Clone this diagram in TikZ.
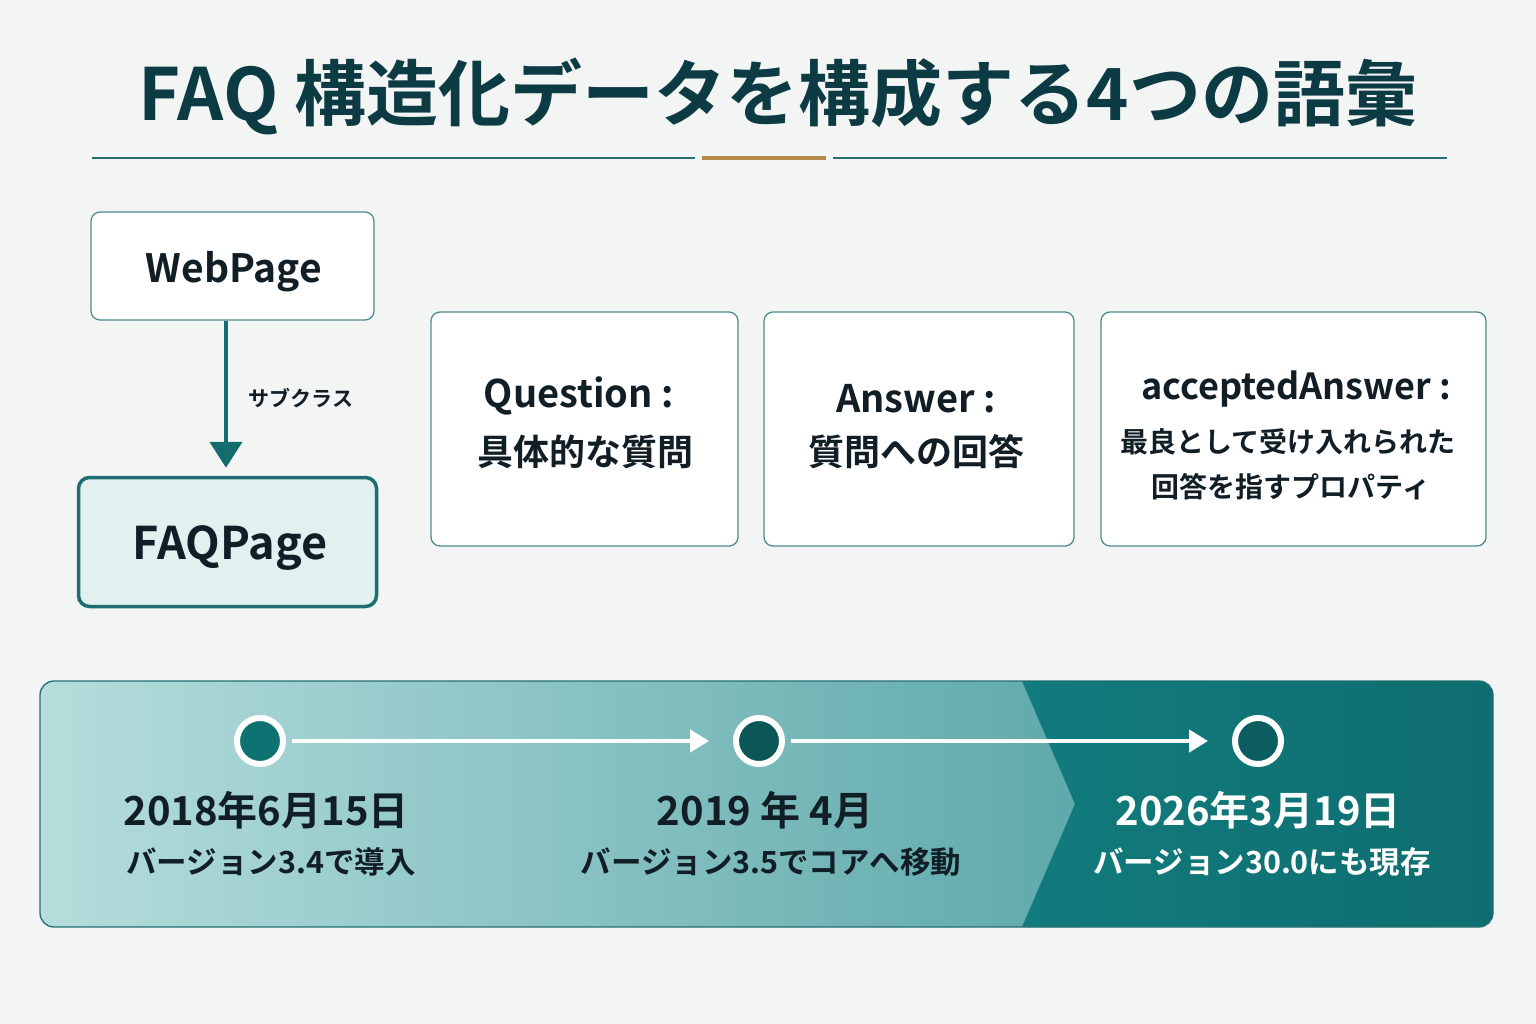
\documentclass[tikz,border=0pt]{standalone}
\usepackage{fontspec}
\setmainfont{Noto Sans CJK JP}[BoldFont=Noto Sans CJK JP Bold]
\usetikzlibrary{arrows.meta}
\definecolor{bg}{HTML}{F3F5F5}
\definecolor{titlec}{HTML}{0D3B44}
\definecolor{tealline}{HTML}{246F73}
\definecolor{gold}{HTML}{B38A45}
\definecolor{boxborder}{HTML}{4F8C8E}
\definecolor{ink}{HTML}{111E26}
\definecolor{faqfill}{HTML}{E2F0EF}
\definecolor{faqborder}{HTML}{1C6E70}
\definecolor{arrowc}{HTML}{146C6C}
\definecolor{tlA}{HTML}{B5DDDC}
\definecolor{tlB}{HTML}{5FA9AB}
\definecolor{tlC}{HTML}{127B7D}
\definecolor{tlD}{HTML}{0E6D6F}
\definecolor{dotA}{HTML}{0E7273}
\definecolor{dotB}{HTML}{0B5757}
\definecolor{dotC}{HTML}{0C5D5F}
\tikzset{
  card/.style={draw=boxborder, line width=1.3pt, fill=white, rounded corners=9pt, inner sep=0pt, align=center, text=ink},
  faqbox/.style={draw=faqborder, line width=3.5pt, fill=faqfill, rounded corners=11pt, inner sep=0pt, text=ink},
  dot/.style={circle, draw=white, line width=6pt, minimum size=46pt, inner sep=0pt},
  tlarrow/.style={draw=white, line width=4.5pt, -{Triangle[width=22pt,length=19pt]}},
  datetxt/.style={font=\bfseries\fontsize{40}{48}\selectfont, inner sep=0pt},
  vertxt/.style={font=\bfseries\fontsize{30.5}{38}\selectfont, inner sep=0pt},
}
\begin{document}
\begin{tikzpicture}[x=1pt,y=-1pt]
\fill[bg] (0,0) rectangle (1536,1024);
\useasboundingbox (0,0) rectangle (1536,1024);
% title
\node[text=titlec, font=\bfseries\fontsize{72}{86}\selectfont, inner sep=0pt] (title) at (778,96) {FAQ 構造化データを構成する4つの語彙};
\draw[tealline, line width=2.2pt] (92,158) -- (695,158);
\draw[gold, line width=4pt] (702,158) -- (826,158);
\draw[tealline, line width=2.2pt] (833,158) -- (1447,158);
% left hierarchy
\node[card, minimum width=283pt, minimum height=108pt] (web) at (232.5,266) {};
\node[text=ink, font=\bfseries\fontsize{39}{46}\selectfont, inner sep=0pt] (webt) at (234,272) {WebPage};
\node[faqbox, minimum width=298pt, minimum height=129pt] (faq) at (227.5,542) {};
\node[text=ink, font=\bfseries\fontsize{45}{54}\selectfont, inner sep=0pt] (faqt) at (230,548) {FAQPage};
\draw[arrowc, line width=4.5pt, -{Triangle[width=32pt,length=26pt]}, shorten >=8pt] (web.south -| 226,0) -- (faq.north -| 226,0) node[midway, right=17pt, text=ink, font=\bfseries\fontsize{21}{26}\selectfont] (sub) {サブクラス};
% cards
\node[card, minimum width=307pt, minimum height=234pt] (q) at (584.5,429) {};
\node[text=ink, font=\bfseries\fontsize{38}{46}\selectfont, inner sep=0pt] (qt) at (579,396) {Question :};
\node[text=ink, font=\bfseries\fontsize{36}{44}\selectfont, inner sep=0pt] (qd) at (585,452) {具体的な質問};
\node[card, minimum width=310pt, minimum height=234pt] (a) at (919,429) {};
\node[text=ink, font=\bfseries\fontsize{38}{46}\selectfont, inner sep=0pt] (at) at (916,399) {Answer :};
\node[text=ink, font=\bfseries\fontsize{36}{44}\selectfont, inner sep=0pt] (ad) at (916,452) {質問への回答};
\node[card, minimum width=385pt, minimum height=234pt] (aa) at (1293.5,429) {};
\node[text=ink, font=\bfseries\fontsize{36}{44}\selectfont, inner sep=0pt] (aat) at (1296,389) {acceptedAnswer :};
\node[text=ink, font=\bfseries\fontsize{28}{34}\selectfont, inner sep=0pt] (aad1) at (1288,442) {最良として受け入れられた};
\node[text=ink, font=\bfseries\fontsize{28}{34}\selectfont, inner sep=0pt] (aad2) at (1291,487) {回答を指すプロパティ};
% timeline panel
\begin{scope}
\clip[rounded corners=14pt] (40,681) rectangle (1493,927);
\shade[left color=tlA, right color=tlB] (40,681) rectangle (1080,927);
\shade[left color=tlC, right color=tlD] (1022,681) -- (1075,804) -- (1022,927) -- (1493,927) -- (1493,681) -- cycle;
\end{scope}
\draw[tealline, line width=1.3pt, rounded corners=14pt] (40,681) rectangle (1493,927);
\node[dot, fill=dotA] (c1) at (260,741) {};
\node[dot, fill=dotB] (c2) at (759,741) {};
\node[dot, fill=dotC] (c3) at (1258,741) {};
\draw[tlarrow, shorten <=6pt, shorten >=24pt] (c1.east) -- (c2.west);
\draw[tlarrow, shorten <=6pt, shorten >=24pt] (c2.east) -- (c3.west);
\node[datetxt, text=ink] (d1) at (266,810) {2018年6月15日};
\node[vertxt, text=ink] (v1) at (271,862) {バージョン3.4で導入};
\node[datetxt, text=ink] (d2) at (765,810) {2019 年 4月};
\node[vertxt, text=ink] (v2) at (771,862) {バージョン3.5でコアへ移動};
\node[datetxt, text=white] (d3) at (1258,810) {2026年3月19日};
\node[vertxt, text=white] (v3) at (1262,862) {バージョン30.0にも現存};
\end{tikzpicture}
\end{document}
